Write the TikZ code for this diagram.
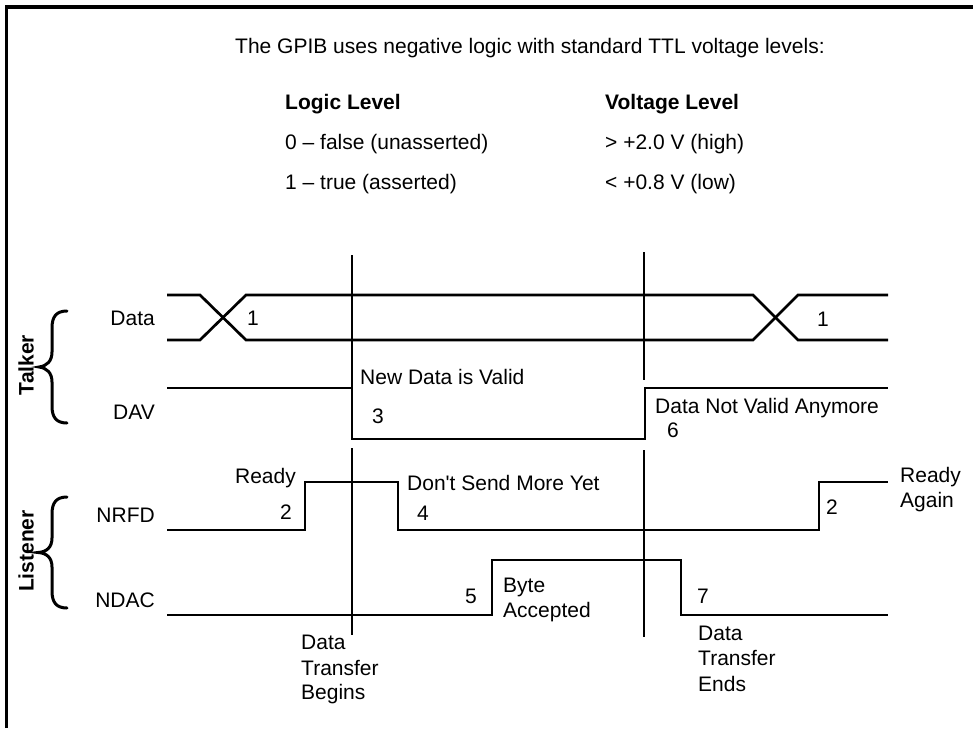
\documentclass[tikz,border=0pt]{standalone}
\usepackage{fontspec}
\setmainfont{Liberation Sans}
\begin{document}
\begin{tikzpicture}[x=1pt,y=-1pt,
  sig/.style={line width=2.7pt, line join=miter},
  marker/.style={line width=2.7pt},
  frame/.style={line width=3.3pt},
  bracestroke/.style={line width=3pt, line cap=round},
  lbl/.style={inner sep=0pt, font=\fontsize{21}{25}\selectfont},
  blbl/.style={inner sep=0pt, font=\fontsize{21}{25}\selectfont\bfseries},
  lw/.style={lbl, anchor=base west},
  le/.style={lbl, anchor=base east}]
\useasboundingbox (0,0) rectangle (973,728);
% frame
\draw[frame] (6.5,728) -- (6.5,7) -- (973,7);
% header text
\node[lw] (intro) at (235,53) {The GPIB uses negative logic with standard TTL voltage levels:};
\node[blbl, anchor=base west] (hlogic) at (285,109) {Logic Level};
\node[blbl, anchor=base west] (hvolt) at (605,109) {Voltage Level};
\node[lw] (l0) at (285,149) {0 -- false (unasserted)};
\node[lw] (v0) at (605,149) {> +2.0 V (high)};
\node[lw] (l1) at (285,189) {1 -- true (asserted)};
\node[lw] (v1) at (605,189) {< +0.8 V (low)};
% signal names
\node[le] (ndata) at (155,325) {Data};
\node[le] (ndav) at (155,419) {DAV};
\node[le] (nnrfd) at (155,522) {NRFD};
\node[le] (nndac) at (155,607) {NDAC};
\node[blbl, rotate=90] (talker) at (26,365) {Talker};
\node[blbl, rotate=90] (listener) at (26,551) {Listener};
% braces
\draw[bracestroke] (67,311) .. controls (56,311) and (52,317) .. (52,328) -- (52,352)
  .. controls (52,361) and (47,366) .. (39,367)
  .. controls (47,368) and (52,373) .. (52,382) -- (52,406)
  .. controls (52,417) and (56,423) .. (67,423);
\draw[bracestroke] (67,497) .. controls (56,497) and (52,503) .. (52,514) -- (52,538)
  .. controls (52,547) and (47,552) .. (38,552.5)
  .. controls (47,553) and (52,558) .. (52,567) -- (52,591)
  .. controls (52,602) and (56,608) .. (67,608);
% data bus
\draw[sig] (167,295) -- (200,295) -- (246,340) -- (753,340) -- (798,295) -- (888,295);
\draw[sig] (167,340) -- (200,340) -- (246,295) -- (753,295) -- (798,340) -- (888,340);
% DAV
\draw[sig] (167,388) -- (352,388) -- (352,439) -- (645,439) -- (645,388) -- (888,388);
% NRFD
\draw[sig] (167,530) -- (305,530) -- (305,482) -- (398,482) -- (398,530) -- (819,530) -- (819,482) -- (888,482);
% NDAC
\draw[sig] (167,615) -- (492,615) -- (492,560) -- (681,560) -- (681,615) -- (888,615);
% markers
\draw[marker] (352,255) -- (352,388);
\draw[marker] (352,448) -- (352,635);
\draw[marker] (644,252) -- (644,380);
\draw[marker] (644,450) -- (644,637);
% event labels
\node[lw] (one1) at (247,325) {1};
\node[lw] (one2) at (817,326) {1};
\node[lw] (newdata) at (360,384) {New Data is Valid};
\node[lw] (three) at (372,423) {3};
\node[lw] (notvalid) at (655,413) {Data Not Valid Anymore};
\node[lw] (six) at (667,437) {6};
\node[le] (ready) at (296,483) {Ready};
\node[lw] (two1) at (280,519) {2};
\node[lw] (dontsend) at (407,490) {Don\textquotesingle t Send More Yet};
\node[lw] (four) at (417,520) {4};
\node[lw] (five) at (465,603) {5};
\node[lw] (byte) at (503,592) {Byte};
\node[lw] (accepted) at (503,617) {Accepted};
\node[lw] (seven) at (697,603) {7};
\node[lw] (two2) at (826,514) {2};
\node[lw] (readyA) at (900,482) {Ready};
\node[lw] (readyB) at (900,507) {Again};
\node[lw] (dtb1) at (301,649) {Data};
\node[lw] (dtb2) at (301,675) {Transfer};
\node[lw] (dtb3) at (301,699) {Begins};
\node[lw] (dte1) at (698,640) {Data};
\node[lw] (dte2) at (698,665) {Transfer};
\node[lw] (dte3) at (698,691) {Ends};
\end{tikzpicture}
\end{document}
